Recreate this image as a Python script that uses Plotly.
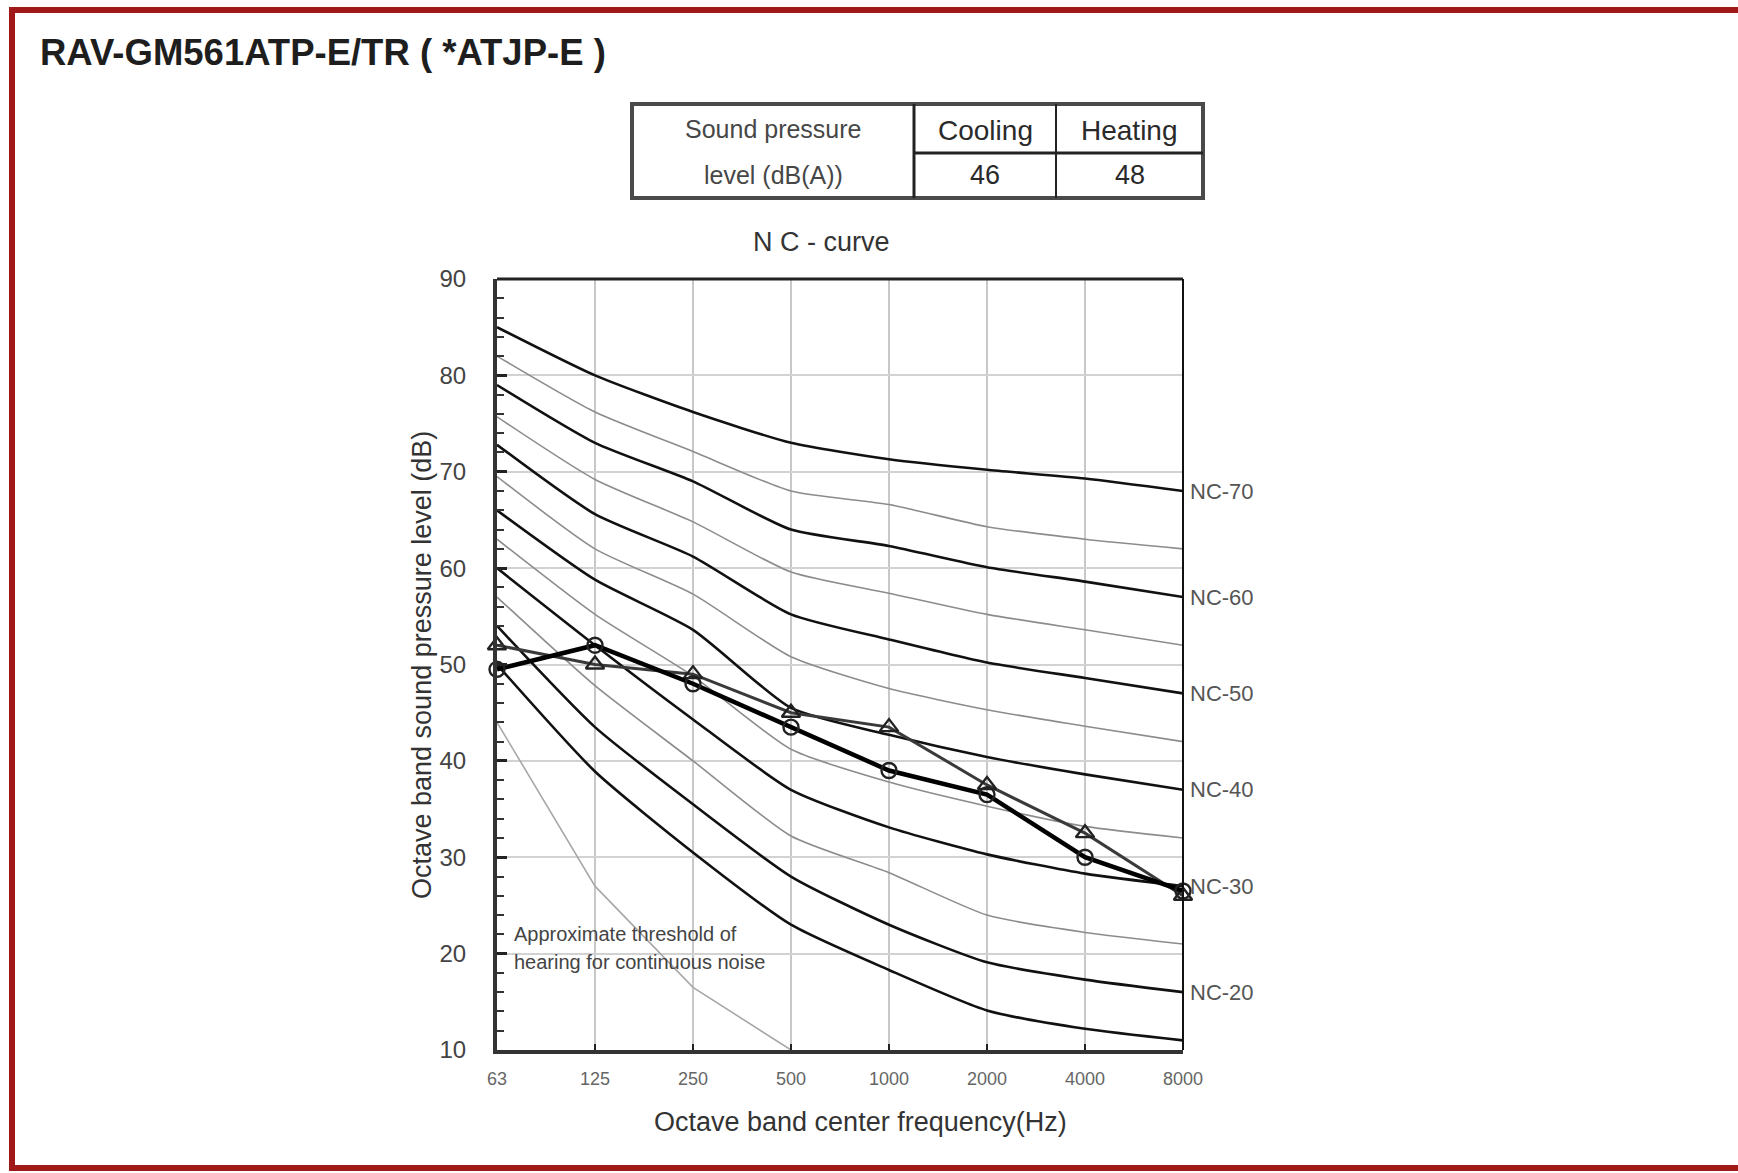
import plotly.graph_objects as go

# ---------------- data ----------------
freq_labels = ["63", "125", "250", "500", "1000", "2000", "4000", "8000"]

nc_names = ["NC-70", "NC-65", "NC-60", "NC-55", "NC-50", "NC-45",
            "NC-40", "NC-35", "NC-30", "NC-25", "NC-20", "NC-15"]
nc_values = [
    [85.0, 80.0, 76.2, 73.0, 71.3, 70.2, 69.3, 68.0],   # NC-70
    [82.0, 76.2, 72.1, 68.0, 66.6, 64.3, 63.0, 62.0],   # NC-65
    [79.0, 73.0, 69.0, 64.0, 62.3, 60.1, 58.6, 57.0],   # NC-60
    [75.7, 69.2, 64.8, 59.6, 57.4, 55.2, 53.6, 52.0],   # NC-55
    [72.8, 65.6, 61.2, 55.2, 52.6, 50.2, 48.6, 47.0],   # NC-50
    [69.5, 62.0, 57.3, 50.8, 47.5, 45.3, 43.6, 42.0],   # NC-45
    [66.0, 58.8, 53.6, 45.5, 42.7, 40.4, 38.6, 37.0],   # NC-40
    [63.0, 55.2, 48.8, 41.2, 37.8, 35.3, 33.2, 32.0],   # NC-35
    [60.0, 52.0, 44.3, 37.0, 33.1, 30.3, 28.3, 27.0],   # NC-30
    [57.0, 47.8, 40.0, 32.2, 28.4, 24.0, 22.2, 21.0],   # NC-25
    [54.0, 43.5, 35.5, 28.0, 23.0, 19.1, 17.3, 16.0],   # NC-20
    [50.0, 38.9, 30.5, 23.0, 18.3, 14.1, 12.2, 11.0],   # NC-15
]
nc_bold = [True, False, True, False, True, False, True, False, True, False, True, True]
nc_labelled = ["NC-70", "NC-60", "NC-50", "NC-40", "NC-30", "NC-20"]

threshold_labels = ["63", "125", "250", "500"]
threshold_values = [44.0, 27.0, 16.5, 10.0]

cooling = [49.5, 52.0, 48.0, 43.5, 39.0, 36.5, 30.0, 26.5]   # circles
heating = [52.0, 50.0, 49.0, 45.0, 43.5, 37.5, 32.5, 26.0]   # triangles

table_header = ["Sound pressure", "level (dB(A))"]
table_cols = ["Cooling", "Heating"]
table_vals = ["46", "48"]

title_text = "RAV-GM561ATP-E/TR ( *ATJP-E )"
chart_title = "N C - curve"
x_title = "Octave band center frequency(Hz)"
y_title = "Octave band sound pressure level (dB)"
note_lines = ["Approximate threshold of", "hearing for continuous noise"]

# ---------------- layout geometry ----------------
FW, FH = 1738, 1173
L, R, T, B = 497, 1183, 279, 1050
W, H = R - L, B - T
FONT = "Liberation Sans, Arial, sans-serif"


def px(x):
    return (x - L) / W


def py(y):
    return (B - y) / H


xi = {lab: i for i, lab in enumerate(freq_labels)}

fig = go.Figure()

# NC curves
for name, vals, bold in zip(nc_names, nc_values, nc_bold):
    fig.add_trace(go.Scatter(
        x=[xi[f] for f in freq_labels], y=vals, mode="lines",
        line=dict(color="#111111" if bold else "#8c8c8c",
                  width=2.6 if bold else 1.6, shape="spline", smoothing=0.6),
        hoverinfo="skip", showlegend=False, name=name))

# threshold of hearing
fig.add_trace(go.Scatter(
    x=[xi[f] for f in threshold_labels], y=threshold_values, mode="lines",
    line=dict(color="#a8a8a8", width=1.6),
    hoverinfo="skip", showlegend=False, name="threshold"))

# measured data
fig.add_trace(go.Scatter(
    x=[xi[f] for f in freq_labels], y=heating, mode="lines+markers",
    line=dict(color="#3a3a3a", width=3),
    marker=dict(symbol="triangle-up-open", size=16, color="#222222",
                line=dict(width=2.4, color="#222222")),
    cliponaxis=False, showlegend=False, name="Heating"))
fig.add_trace(go.Scatter(
    x=[xi[f] for f in freq_labels], y=cooling, mode="lines+markers",
    line=dict(color="#000000", width=4.5),
    marker=dict(symbol="circle-open", size=15, color="#222222",
                line=dict(width=2.4, color="#222222")),
    cliponaxis=False, showlegend=False, name="Cooling"))

annotations = []
# NC labels at curve ends
for name, vals in zip(nc_names, nc_values):
    if name in nc_labelled:
        annotations.append(dict(
            x=xi[freq_labels[-1]], y=vals[-1], xref="x", yref="y",
            text=name, showarrow=False, xanchor="left", yanchor="middle",
            xshift=5, font=dict(family=FONT, size=22, color="#555555")))


def note(x, y, text, size, color, xanchor="center", angle=0, bold=False):
    return dict(x=px(x), y=py(y), xref="paper", yref="paper",
                text=f"<b>{text}</b>" if bold else text,
                showarrow=False, xanchor=xanchor, yanchor="middle",
                textangle=angle, font=dict(family=FONT, size=size, color=color))


annotations += [
    note(38, 53, title_text, 36.5, "#1e1e1e", xanchor="left", bold=True),
    note(821, 242, chart_title, 27, "#333333"),
    note(860, 1122, x_title, 27, "#333333"),
    note(422, 665, y_title, 27, "#333333", angle=-90),
    note(512, 934, note_lines[0], 20, "#444444", xanchor="left"),
    note(512, 962, note_lines[1], 20, "#444444", xanchor="left"),
]

# table
TX0, TX1, TY0, TY1 = 632, 1203, 104, 198
TC1, TC2, TMID = 914, 1056, 153
annotations += [
    note((TX0 + TC1) / 2, 129, table_header[0], 25, "#474747"),
    note((TX0 + TC1) / 2, 175, table_header[1], 25, "#474747"),
]
for cx, head, val in zip([(TC1 + TC2) / 2, (TC2 + TX1) / 2], table_cols, table_vals):
    annotations.append(note(cx, 130, head, 28, "#2a2a2a"))
    annotations.append(note(cx, 175, val, 27, "#2a2a2a"))

shapes = [
    # red frame
    dict(type="rect", xref="paper", yref="paper", x0=px(12), x1=px(1760),
         y0=py(10), y1=py(1168), line=dict(color="#a01818", width=6),
         fillcolor="rgba(0,0,0,0)", layer="above"),
    # plot frame top / right
    dict(type="line", xref="paper", yref="paper", x0=0, x1=1, y0=1, y1=1,
         line=dict(color="#222222", width=3), layer="above"),
    dict(type="line", xref="paper", yref="paper", x0=1, x1=1, y0=0, y1=1,
         line=dict(color="#111111", width=2), layer="above"),
    # table
    dict(type="rect", xref="paper", yref="paper", x0=px(TX0), x1=px(TX1),
         y0=py(TY0), y1=py(TY1), line=dict(color="#4a4a4a", width=4)),
    dict(type="line", xref="paper", yref="paper", x0=px(TC1), x1=px(TC1),
         y0=py(TY0), y1=py(TY1), line=dict(color="#222222", width=3)),
    dict(type="line", xref="paper", yref="paper", x0=px(TC2), x1=px(TC2),
         y0=py(TY0), y1=py(TY1), line=dict(color="#222222", width=2)),
    dict(type="line", xref="paper", yref="paper", x0=px(TC1), x1=px(TX1),
         y0=py(TMID), y1=py(TMID), line=dict(color="#222222", width=3)),
]

fig.update_layout(
    width=FW, height=FH, autosize=False,
    margin=dict(l=L, r=FW - R, t=T, b=FH - B, pad=0),
    paper_bgcolor="white", plot_bgcolor="white",
    showlegend=False, annotations=annotations, shapes=shapes,
    xaxis=dict(range=[0, len(freq_labels) - 1], tickmode="array",
               tickvals=list(range(len(freq_labels))), ticktext=freq_labels,
               showgrid=True, gridcolor="#c8c8c8", gridwidth=2,
               showline=True, linecolor="#333333", linewidth=4,
               ticks="inside", ticklen=6, tickwidth=2, tickcolor="#222222",
               ticklabelstandoff=9,
               tickfont=dict(family=FONT, size=18, color="#666666"),
               zeroline=False, fixedrange=True),
    yaxis=dict(range=[10, 90], dtick=10, tick0=10,
               showgrid=True, gridcolor="#d2d2d2", gridwidth=2,
               showline=True, linecolor="#333333", linewidth=4,
               ticks="inside", ticklen=10, tickwidth=3, tickcolor="#222222",
               minor=dict(dtick=2, ticks="inside", ticklen=7, tickwidth=2,
                          tickcolor="#333333", showgrid=False),
               ticklabelstandoff=22,
               tickfont=dict(family=FONT, size=24, color="#444444"),
               zeroline=False, fixedrange=True),
)

fig.write_html("out.html", config={"displayModeBar": False},
               post_script="document.body.style.margin='0';document.body.style.overflow='hidden';")
